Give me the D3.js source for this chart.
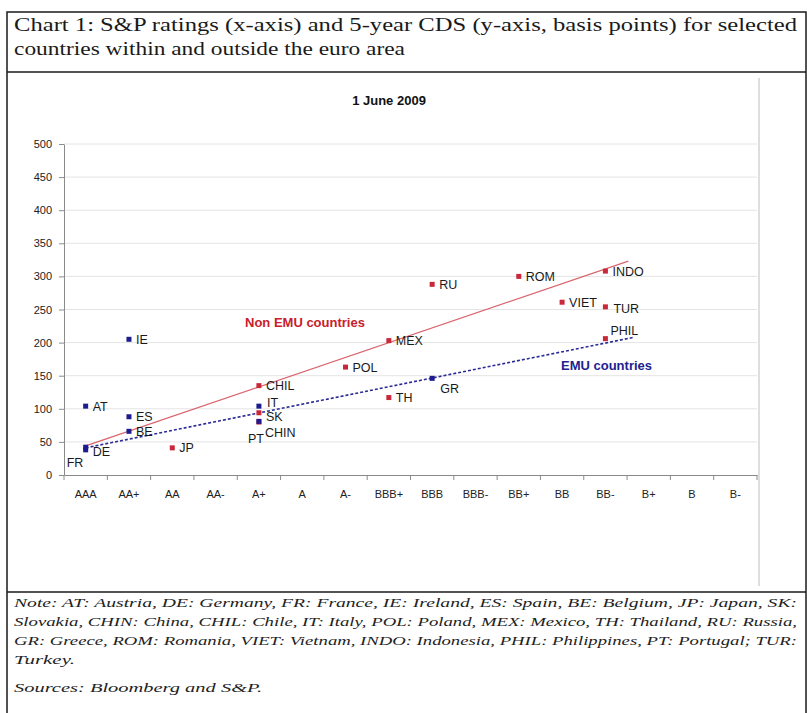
<!DOCTYPE html>
<html>
<head>
<meta charset="utf-8">
<script src="https://cdn.jsdelivr.net/npm/d3@7"></script>
<style>
    body { margin: 0; background: #fff; }
    svg { display: block; }
</style>
</head>
<body>
<div id="chart"></div>
<script>

//******************************************************************************
//**  Data
//******************************************************************************
var ratings = ["AAA","AA+","AA","AA-","A+","A","A-","BBB+","BBB","BBB-","BB+","BB","BB-","B+","B","B-"];
var yTicks = [0,50,100,150,200,250,300,350,400,450,500];

var emuCodes   = ["AT","FR","DE","IE","ES","BE","IT","PT","GR"];
var emuRatings = ["AAA","AAA","AAA","AA+","AA+","AA+","A+","A+","BBB"];
var emuCds     = [104,38,42,205,88,66,104,81,146];

var nonEmuCodes   = ["JP","CHIL","SK","CHIN","POL","MEX","TH","RU","ROM","VIET","INDO","TUR","PHIL"];
var nonEmuRatings = ["AA","A+","A+","A+","A-","BBB+","BBB+","BBB","BB+","BB","BB-","BB-","BB-"];
var nonEmuCds     = [41,135,94,80,163,203,117,288,300,261,308,254,206];

//trend lines: rating index (0 = AAA) and cds value at each end
var emuTrendIdx = [0, 12.66];
var emuTrendCds = [41, 208];
var nonEmuTrendIdx = [0, 12.53];
var nonEmuTrendCds = [44, 323];

var titleLines = [
    "Chart 1: S&P ratings (x-axis) and 5-year CDS (y-axis, basis points) for selected",
    "countries within and outside the euro area"
];
var noteLines = [
    "Note: AT: Austria, DE: Germany, FR: France, IE: Ireland, ES: Spain, BE: Belgium, JP: Japan, SK:",
    "Slovakia, CHIN: China, CHIL: Chile, IT: Italy, POL: Poland, MEX: Mexico, TH: Thailand, RU: Russia,",
    "GR: Greece, ROM: Romania, VIET: Vietnam, INDO: Indonesia, PHIL: Philippines, PT: Portugal; TUR:",
    "Turkey."
];
var sourceLine = "Sources: Bloomberg and S&P.";


//******************************************************************************
//**  Chart
//******************************************************************************
var width = 807, height = 713;
var plot = { left: 64, right: 757, top: 144, bottom: 475 };
var red = "#c9283a", blue = "#1c1c8f";
var sans = "'Liberation Sans', Arial, sans-serif";
var serif = "'Liberation Serif', 'DejaVu Serif', serif";

var svg = d3.select("#chart").append("svg")
    .attr("width", width)
    .attr("height", height)
    .style("background", "#fff");

  //Frame
    svg.append("rect")
        .attr("x", 7).attr("y", 12)
        .attr("width", 799).attr("height", 720)
        .attr("fill", "none")
        .attr("stroke", "#1a1a1a")
        .attr("stroke-width", 1.5);
    svg.append("line")
        .attr("x1", 7).attr("x2", 806).attr("y1", 72).attr("y2", 72)
        .attr("stroke", "#1a1a1a").attr("stroke-width", 1.5);
    svg.append("line")
        .attr("x1", 7).attr("x2", 806).attr("y1", 592).attr("y2", 592)
        .attr("stroke", "#1a1a1a").attr("stroke-width", 1.5);

  //Chart area border (right side)
    svg.append("line")
        .attr("x1", 759).attr("x2", 759).attr("y1", 78).attr("y2", 586)
        .attr("stroke", "#bdbdbd").attr("stroke-width", 1);


  //Title
    var titleLengths = [783, 391];
    svg.append("g").selectAll("text")
        .data(titleLines)
        .enter()
        .append("text")
        .attr("x", 14)
        .attr("y", function(d, i){ return 31 + i*24; })
        .attr("textLength", function(d, i){ return titleLengths[i]; })
        .attr("lengthAdjust", "spacingAndGlyphs")
        .style("font-family", serif)
        .style("font-size", "19px")
        .style("fill", "#1a1a1a")
        .text(function(d){ return d; });


  //Notes
    var noteLengths = [783, 783, 783, 61];
    svg.append("g").selectAll("text")
        .data(noteLines)
        .enter()
        .append("text")
        .attr("x", 14)
        .attr("y", function(d, i){ return 607 + i*19; })
        .attr("textLength", function(d, i){ return noteLengths[i]; })
        .attr("lengthAdjust", "spacingAndGlyphs")
        .style("font-family", serif)
        .style("font-style", "italic")
        .style("font-size", "13.5px")
        .style("fill", "#222")
        .text(function(d){ return d; });

    svg.append("text")
        .attr("x", 14).attr("y", 692)
        .attr("textLength", 248)
        .attr("lengthAdjust", "spacingAndGlyphs")
        .style("font-family", serif)
        .style("font-style", "italic")
        .style("font-size", "13.5px")
        .style("fill", "#222")
        .text(sourceLine);


  //Chart title
    svg.append("text")
        .attr("x", 389).attr("y", 105)
        .attr("text-anchor", "middle")
        .style("font-family", sans)
        .style("font-weight", "bold")
        .style("font-size", "13px")
        .style("fill", "#111")
        .text("1 June 2009");


  //Scales
    var x = d3.scaleBand()
        .domain(ratings)
        .range([plot.left, plot.right]);

    var xi = d3.scaleLinear()
        .domain([-0.5, ratings.length - 0.5])
        .range([plot.left, plot.right]);

    var y = d3.scaleLinear()
        .domain([0, 500])
        .range([plot.bottom, plot.top]);

    var cx = function(r){ return x(r) + x.bandwidth()/2; };


  //Gridlines
    svg.append("g")
        .selectAll("line")
        .data(yTicks.filter(function(d){ return d > 0; }))
        .enter()
        .append("line")
        .attr("x1", plot.left).attr("x2", plot.right)
        .attr("y1", function(d){ return y(d); })
        .attr("y2", function(d){ return y(d); })
        .attr("stroke", "#e4e4e4")
        .attr("stroke-width", 1);


  //Y axis
    var yAxis = svg.append("g")
        .attr("transform", "translate(" + plot.left + ",0)")
        .call(d3.axisLeft(y).tickValues(yTicks).tickSize(5).tickPadding(7).tickSizeOuter(0));
    yAxis.select(".domain").attr("stroke", "#8a8a8a");
    yAxis.selectAll(".tick line").attr("stroke", "#8a8a8a");
    yAxis.selectAll("text")
        .style("font-family", sans)
        .style("font-size", "11px")
        .style("fill", "#222");


  //X axis
    var xAxis = svg.append("g")
        .attr("transform", "translate(0," + plot.bottom + ")")
        .call(d3.axisBottom(x).tickSize(0).tickPadding(15).tickSizeOuter(0));
    xAxis.select(".domain").attr("stroke", "#8a8a8a");
    xAxis.selectAll("text")
        .style("font-family", sans)
        .style("font-size", "11px")
        .style("fill", "#222");

    svg.append("g")
        .selectAll("line")
        .data(d3.range(ratings.length + 1))
        .enter()
        .append("line")
        .attr("x1", function(d){ return xi(d - 0.5); })
        .attr("x2", function(d){ return xi(d - 0.5); })
        .attr("y1", plot.bottom).attr("y2", plot.bottom + 5)
        .attr("stroke", "#8a8a8a");


  //Trend lines
    var trendLine = d3.line()
        .x(function(d){ return xi(d[0]); })
        .y(function(d){ return y(d[1]); });

    svg.append("path")
        .datum(d3.zip(nonEmuTrendIdx, nonEmuTrendCds))
        .attr("d", trendLine)
        .attr("fill", "none")
        .attr("stroke", "#d9646c")
        .attr("stroke-width", 1.2);

    svg.append("path")
        .datum(d3.zip(emuTrendIdx, emuTrendCds))
        .attr("d", trendLine)
        .attr("fill", "none")
        .attr("stroke", "#2b2b96")
        .attr("stroke-width", 1.6)
        .attr("stroke-dasharray", "3,2");


  //Points
    var nonEmu = d3.zip(nonEmuCodes, nonEmuRatings, nonEmuCds);
    var emu = d3.zip(emuCodes, emuRatings, emuCds);

    var drawPoints = function(data, color){
        svg.append("g")
            .selectAll("rect")
            .data(data)
            .enter()
            .append("rect")
            .attr("x", function(d){ return cx(d[1]) - 2.5; })
            .attr("y", function(d){ return y(d[2]) - 2.5; })
            .attr("width", 5)
            .attr("height", 5)
            .attr("fill", color);
    };
    drawPoints(nonEmu, red);
    drawPoints(emu, blue);


  //Point labels
    var labelOffset = {
        FR: [-19, 13], DE: [7, 4], IT: [8, -4], SK: [7, 4], CHIN: [6, 10], PT: [-11, 17],
        GR: [8, 10], PHIL: [5, -8], TUR: [8, 2]
    };
    svg.append("g")
        .selectAll("text")
        .data(nonEmu.concat(emu))
        .enter()
        .append("text")
        .attr("x", function(d){ var o = labelOffset[d[0]] || [7, 0]; return cx(d[1]) + o[0]; })
        .attr("y", function(d){ var o = labelOffset[d[0]] || [7, 0]; return y(d[2]) + o[1]; })
        .attr("dy", "0.36em")
        .style("font-family", sans)
        .style("font-size", "12.5px")
        .style("fill", "#1a1a1a")
        .text(function(d){ return d[0]; });


  //Series labels
    svg.append("text")
        .attr("x", 245).attr("y", 327)
        .style("font-family", sans)
        .style("font-weight", "bold")
        .style("font-size", "13px")
        .style("fill", "#c8202c")
        .text("Non EMU countries");

    svg.append("text")
        .attr("x", 561).attr("y", 370)
        .style("font-family", sans)
        .style("font-weight", "bold")
        .style("font-size", "13px")
        .style("fill", "#22228f")
        .text("EMU countries");

</script>
</body>
</html>
